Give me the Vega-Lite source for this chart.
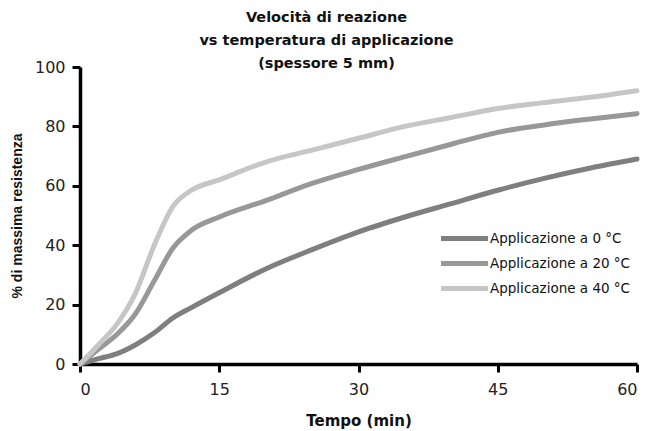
{
  "$schema": "https://vega.github.io/schema/vega-lite/v6.json",
  "width": 557,
  "height": 297,
  "autosize": {"type": "none"},
  "padding": {"left": 80, "top": 67, "right": 9, "bottom": 67},
  "background": "white",
  "title": {
    "text": ["Velocità di reazione", "vs temperatura di applicazione", "(spessore 5 mm)"],
    "font": "DejaVu Sans",
    "fontSize": 14.5,
    "fontWeight": "bold",
    "color": "#111111",
    "lineHeight": 23,
    "anchor": "middle",
    "dx": -32,
    "offset": -12
  },
  "data": {
    "values": [
      {"t": 0, "v": 0, "s": "Applicazione a 0 °C"},
      {"t": 2, "v": 1.8, "s": "Applicazione a 0 °C"},
      {"t": 4, "v": 3.5, "s": "Applicazione a 0 °C"},
      {"t": 6, "v": 6.5, "s": "Applicazione a 0 °C"},
      {"t": 8, "v": 10.5, "s": "Applicazione a 0 °C"},
      {"t": 10, "v": 15.5, "s": "Applicazione a 0 °C"},
      {"t": 12, "v": 19, "s": "Applicazione a 0 °C"},
      {"t": 15, "v": 24, "s": "Applicazione a 0 °C"},
      {"t": 20, "v": 32, "s": "Applicazione a 0 °C"},
      {"t": 25, "v": 38.5, "s": "Applicazione a 0 °C"},
      {"t": 30, "v": 44.5, "s": "Applicazione a 0 °C"},
      {"t": 35, "v": 49.5, "s": "Applicazione a 0 °C"},
      {"t": 40, "v": 54, "s": "Applicazione a 0 °C"},
      {"t": 45, "v": 58.5, "s": "Applicazione a 0 °C"},
      {"t": 50, "v": 62.5, "s": "Applicazione a 0 °C"},
      {"t": 55, "v": 66, "s": "Applicazione a 0 °C"},
      {"t": 60, "v": 69, "s": "Applicazione a 0 °C"},
      {"t": 0, "v": 0, "s": "Applicazione a 20 °C"},
      {"t": 2, "v": 5, "s": "Applicazione a 20 °C"},
      {"t": 4, "v": 10, "s": "Applicazione a 20 °C"},
      {"t": 6, "v": 17, "s": "Applicazione a 20 °C"},
      {"t": 8, "v": 28, "s": "Applicazione a 20 °C"},
      {"t": 10, "v": 39, "s": "Applicazione a 20 °C"},
      {"t": 12, "v": 45, "s": "Applicazione a 20 °C"},
      {"t": 15, "v": 49.5, "s": "Applicazione a 20 °C"},
      {"t": 20, "v": 55, "s": "Applicazione a 20 °C"},
      {"t": 25, "v": 60.8, "s": "Applicazione a 20 °C"},
      {"t": 30, "v": 65.5, "s": "Applicazione a 20 °C"},
      {"t": 35, "v": 69.8, "s": "Applicazione a 20 °C"},
      {"t": 40, "v": 74, "s": "Applicazione a 20 °C"},
      {"t": 45, "v": 78, "s": "Applicazione a 20 °C"},
      {"t": 50, "v": 80.5, "s": "Applicazione a 20 °C"},
      {"t": 55, "v": 82.5, "s": "Applicazione a 20 °C"},
      {"t": 60, "v": 84.3, "s": "Applicazione a 20 °C"},
      {"t": 0, "v": 0, "s": "Applicazione a 40 °C"},
      {"t": 2, "v": 6.5, "s": "Applicazione a 40 °C"},
      {"t": 4, "v": 13.5, "s": "Applicazione a 40 °C"},
      {"t": 6, "v": 24, "s": "Applicazione a 40 °C"},
      {"t": 8, "v": 40, "s": "Applicazione a 40 °C"},
      {"t": 10, "v": 53, "s": "Applicazione a 40 °C"},
      {"t": 12, "v": 58.5, "s": "Applicazione a 40 °C"},
      {"t": 15, "v": 62, "s": "Applicazione a 40 °C"},
      {"t": 20, "v": 68, "s": "Applicazione a 40 °C"},
      {"t": 25, "v": 72, "s": "Applicazione a 40 °C"},
      {"t": 30, "v": 76, "s": "Applicazione a 40 °C"},
      {"t": 35, "v": 80, "s": "Applicazione a 40 °C"},
      {"t": 40, "v": 83, "s": "Applicazione a 40 °C"},
      {"t": 45, "v": 86, "s": "Applicazione a 40 °C"},
      {"t": 50, "v": 88, "s": "Applicazione a 40 °C"},
      {"t": 55, "v": 89.8, "s": "Applicazione a 40 °C"},
      {"t": 60, "v": 92, "s": "Applicazione a 40 °C"}
    ]
  },
  "mark": {"type": "line", "interpolate": "monotone", "strokeWidth": 5, "strokeCap": "round"},
  "encoding": {
    "x": {
      "field": "t", "type": "quantitative",
      "scale": {"domain": [0, 60], "nice": false},
      "axis": {"values": [0, 15, 30, 45, 60], "title": "Tempo (min)", "titlePadding": 16, "labelPadding": 9, "titleFont": "DejaVu Sans", "titleFontSize": 15}
    },
    "y": {
      "field": "v", "type": "quantitative",
      "scale": {"domain": [0, 100], "nice": false},
      "axis": {"values": [0, 20, 40, 60, 80, 100], "title": "% di massima resistenza", "titlePadding": 10, "labelPadding": 7, "titleFont": "Liberation Sans", "titleFontSize": 14}
    },
    "color": {
      "field": "s", "type": "nominal",
      "scale": {
        "domain": ["Applicazione a 0 °C", "Applicazione a 20 °C", "Applicazione a 40 °C"],
        "range": ["#7f7f7f", "#989898", "#c6c6c6"]
      },
      "legend": {
        "title": null,
        "orient": "none",
        "legendX": 374,
        "legendY": 161,
        "symbolType": "M-3,0H3",
        "symbolSize": 245,
        "symbolStrokeWidth": 5,
        "symbolFillColor": "transparent",
        "labelFont": "DejaVu Sans",
        "labelFontSize": 13.5,
        "labelColor": "#111111",
        "labelOffset": 15,
        "rowPadding": 4
      }
    }
  },
  "config": {
    "view": {"stroke": null},
    "axis": {
      "grid": false,
      "domainColor": "black",
      "domainWidth": 3.5,
      "tickColor": "black",
      "tickWidth": 3,
      "tickSize": 8,
      "labelFont": "DejaVu Sans",
      "labelFontSize": 16,
      "labelColor": "#222222",
      "titleFontWeight": "bold",
      "titleColor": "#111111"
    }
  }
}
